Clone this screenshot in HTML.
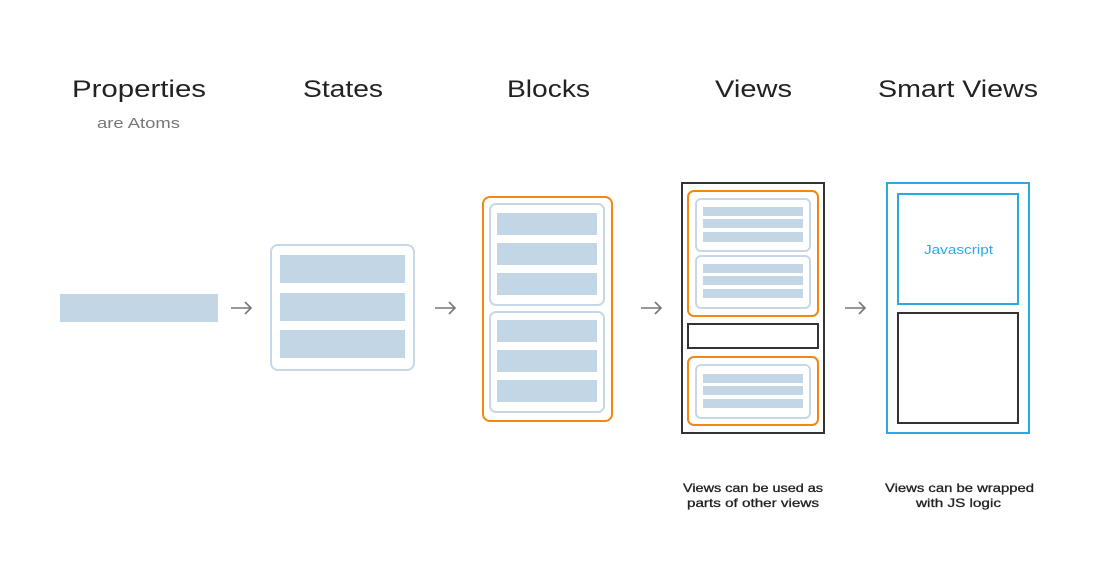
<!DOCTYPE html>
<html><head><style>html,body{margin:0;padding:0;background:#fff;}</style></head>
<body>
<svg width="1097" height="566" xmlns="http://www.w3.org/2000/svg" font-family="Liberation Sans, sans-serif">
<g fill="#222" font-size="24">
<text x="72" y="97" textLength="134" lengthAdjust="spacingAndGlyphs">Properties</text>
<text x="303" y="97" textLength="80" lengthAdjust="spacingAndGlyphs">States</text>
<text x="507" y="97" textLength="83" lengthAdjust="spacingAndGlyphs">Blocks</text>
<text x="715" y="97" textLength="77" lengthAdjust="spacingAndGlyphs">Views</text>
<text x="878" y="97" textLength="160" lengthAdjust="spacingAndGlyphs">Smart Views</text>
</g>
<text x="97" y="128" font-size="15" fill="#777" textLength="83" lengthAdjust="spacingAndGlyphs">are Atoms</text>
<rect x="60" y="294" width="158" height="28" fill="#c2d6e6"/>
<g stroke="#777" stroke-width="1.6" fill="none">
<path d="M231 308h20M245 302l6 6-6 6"/>
<path d="M435 308h20M449 302l6 6-6 6"/>
<path d="M641 308h20M655 302l6 6-6 6"/>
<path d="M845 308h20M859 302l6 6-6 6"/>
</g>
<rect x="271" y="245" width="143" height="125" rx="7" fill="none" stroke="#c6d8e7" stroke-width="2"/>
<g fill="#c2d6e6"><rect x="280" y="255" width="125" height="28"/><rect x="280" y="293" width="125" height="28"/><rect x="280" y="330" width="125" height="28"/></g>
<rect x="483" y="197" width="129" height="224" rx="7" fill="none" stroke="#f5870f" stroke-width="2"/>
<rect x="490" y="204" width="114" height="101" rx="6" fill="none" stroke="#c6d8e7" stroke-width="2"/>
<rect x="490" y="312" width="114" height="100" rx="6" fill="none" stroke="#c6d8e7" stroke-width="2"/>
<g fill="#c2d6e6"><rect x="497" y="213" width="100" height="22"/><rect x="497" y="243" width="100" height="22"/><rect x="497" y="273" width="100" height="22"/><rect x="497" y="320" width="100" height="22"/><rect x="497" y="350" width="100" height="22"/><rect x="497" y="380" width="100" height="22"/></g>
<rect x="682" y="183" width="142" height="250" fill="none" stroke="#333" stroke-width="2"/>
<rect x="688" y="191" width="130" height="125" rx="6" fill="none" stroke="#f5870f" stroke-width="2"/>
<rect x="696" y="199" width="114" height="52" rx="5" fill="none" stroke="#c6d8e7" stroke-width="2"/>
<rect x="696" y="256" width="114" height="52" rx="5" fill="none" stroke="#c6d8e7" stroke-width="2"/>
<rect x="688" y="324" width="130" height="24" fill="none" stroke="#333" stroke-width="2"/>
<rect x="688" y="357" width="130" height="68" rx="6" fill="none" stroke="#f5870f" stroke-width="2"/>
<rect x="696" y="365" width="114" height="53" rx="5" fill="none" stroke="#c6d8e7" stroke-width="2"/>
<g fill="#c2d6e6"><rect x="703" y="207" width="100" height="9"/><rect x="703" y="219" width="100" height="9"/><rect x="703" y="232" width="100" height="10"/><rect x="703" y="264" width="100" height="9"/><rect x="703" y="276" width="100" height="9"/><rect x="703" y="289" width="100" height="9"/><rect x="703" y="374" width="100" height="9"/><rect x="703" y="386" width="100" height="9"/><rect x="703" y="399" width="100" height="9"/></g>
<rect x="887" y="183" width="142" height="250" fill="none" stroke="#2aa9e0" stroke-width="2"/>
<rect x="898" y="194" width="120" height="110" fill="none" stroke="#2aa9e0" stroke-width="2"/>
<rect x="898" y="313" width="120" height="110" fill="none" stroke="#333" stroke-width="2"/>
<text x="924" y="254" font-size="13" fill="#2aa9e0" textLength="69" lengthAdjust="spacingAndGlyphs">Javascript</text>
<g font-size="12" fill="#222" stroke="#222" stroke-width="0.3">
<text x="683" y="492" textLength="140" lengthAdjust="spacingAndGlyphs">Views can be used as</text>
<text x="687" y="507" textLength="132" lengthAdjust="spacingAndGlyphs">parts of other views</text>
<text x="885" y="492" textLength="149" lengthAdjust="spacingAndGlyphs">Views can be wrapped</text>
<text x="916" y="507" textLength="85" lengthAdjust="spacingAndGlyphs">with JS logic</text>
</g>
</svg>
</body></html>
